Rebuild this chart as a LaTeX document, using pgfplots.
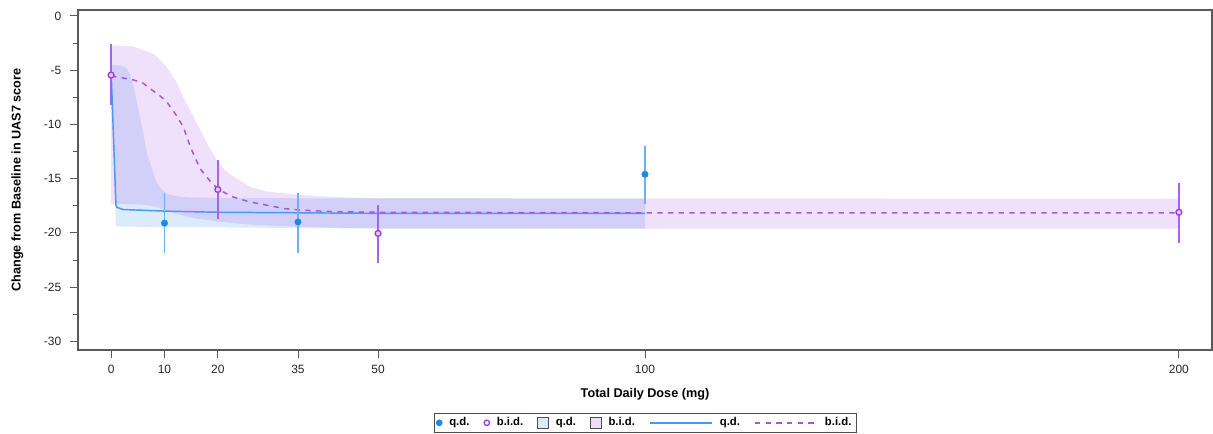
\documentclass[border=0pt]{standalone}
\usepackage{fontspec}
\setmainfont{Liberation Sans}
\usepackage{pgfplots}
\pgfplotsset{compat=1.18}
\definecolor{qdmark}{RGB}{30,136,232}
\definecolor{qderr}{RGB}{105,178,245}
\definecolor{qdline}{RGB}{75,152,240}
\definecolor{bidmark}{RGB}{160,60,222}
\definecolor{bidfill}{RGB}{225,200,250}
\definecolor{biderr}{RGB}{172,98,232}
\definecolor{bidline}{RGB}{165,85,228}
\definecolor{bandblue}{RGB}{55,145,235}
\definecolor{bandpurple}{RGB}{175,100,235}
\definecolor{legblue}{RGB}{218,234,252}
\definecolor{legpurple}{RGB}{237,222,252}
\begin{document}
\begin{tikzpicture}
\begin{axis}[name=ax, scale only axis, width=850.5pt, height=255pt,
  xmin=-6.2, xmax=206.2, ymin=-30.8, ymax=0.55,
  xtick={0,10,20,35,50,100,200}, ytick={0,-5,-10,-15,-20,-25,-30},
  minor y tick num=1,
  tick align=outside, xtick pos=bottom, ytick pos=left,
  major tick length=6pt, minor tick length=4pt,
  axis line style={black!65, line width=0.8pt},
  tick style={black!65, line width=0.7pt},
  /pgf/number format/assume math mode=true,
  tick label style={font=\fontsize{9}{10}\selectfont, text=black!85},
  xticklabel style={yshift=-2pt},
  yticklabel style={xshift=-3pt},
  every axis x label/.style={at={(rel axis cs:0.5,0)}, anchor=center, yshift=-33.5pt, font=\bfseries\fontsize{9.5}{11}\selectfont},
  every axis y label/.style={at={(rel axis cs:0,0.5)}, xshift=-45.5pt, rotate=90, anchor=center, font=\bfseries\fontsize{9.5}{11}\selectfont},
  xlabel={Total Daily Dose (mg)}, ylabel={Change from Baseline in UAS7 score},
  legend style={at={(0.5,0)}, anchor=north, yshift=-47pt, draw=black!70, line width=0.6pt,
    font=\bfseries\fontsize{8.5}{10}\selectfont, inner sep=1.5pt,
    /tikz/every odd column/.append style={column sep=3pt},
    /tikz/every even column/.append style={column sep=8.6pt}},
  legend columns=-1,
]
% q.d. band
\addplot[forget plot, draw=none, fill=bandblue, fill opacity=0.18] coordinates {
 (0,-4.5) (2,-4.6) (2.9,-4.8) (3.6,-5.5) (4.2,-6.5) (4.8,-7.9) (5.4,-9.3) (6.1,-11.0)
 (6.7,-12.7) (7.3,-13.5) (8.0,-14.6) (8.6,-15.45) (9.5,-16.0) (10.4,-16.4) (12,-16.6)
 (13.5,-16.7) (20,-16.8) (100,-16.85)
 (100,-19.6) (50,-19.6) (20,-19.5) (5,-19.45) (0.9,-19.4) (0.3,-10) (0,-4.5)};
% b.i.d. band
\addplot[forget plot, draw=none, fill=bandpurple, fill opacity=0.2] coordinates {
 (0,-2.7) (4,-2.8) (6,-3.15) (7.5,-3.4) (8.6,-3.75) (10.4,-4.7) (12,-5.9) (13.5,-7.45)
 (15,-8.9) (16.7,-10.5) (18,-11.8) (19.8,-13.3) (21.3,-14.2) (22.9,-14.8) (26,-15.75)
 (29.2,-16.2) (35.4,-16.5) (42,-16.7) (50,-16.8) (200,-16.85)
 (200,-19.6) (50,-19.6) (35,-19.45) (25,-19.2) (20,-18.95) (15,-18.6) (12,-18.2)
 (10,-17.9) (8.6,-17.6) (6,-17.4) (0,-17.3)};
% q.d. fitted line
\addplot[forget plot, qdline, line width=1.1pt] coordinates {
 (0,-5.0) (0.9,-17.4) (1.1,-17.65) (2.3,-17.85) (5,-17.9) (10.4,-18.0) (20,-18.1)
 (35,-18.15) (50,-18.2) (100,-18.2)};
% b.i.d. fitted line
\addplot[forget plot, bidline, line width=1.1pt, dash pattern=on 4pt off 4pt] coordinates {
 (0,-5.55) (2,-5.7) (4.2,-5.9) (6,-6.2) (7.3,-6.7) (9,-7.3) (10.4,-7.9) (12,-9.0)
 (13.5,-10.2) (14.8,-12.0) (15.4,-12.7) (16.7,-14.1) (18.5,-15.2) (20.1,-16.0)
 (22.9,-16.7) (26,-17.15) (29.2,-17.45) (32.3,-17.75) (35.4,-17.9) (42,-18.05)
 (50,-18.1) (100,-18.15) (200,-18.15)};
% q.d. observed
\addplot[forget plot, only marks, mark=*, mark size=2.4pt, color=qdmark,
  error bars/.cd, y dir=both, y explicit, error mark=none,
  error bar style={line width=1.4pt, color=qderr}] coordinates {
 (10,-19.1) += (0,2.8) -= (0,2.8)
 (35,-19.0) += (0,2.7) -= (0,2.9)
 (100,-14.6) += (0,2.6) -= (0,2.7)};
% b.i.d. observed
\addplot[forget plot, only marks, mark=*, mark size=2.2pt,
  mark options={draw=bidmark, fill=bidfill, line width=1pt},
  error bars/.cd, y dir=both, y explicit, error mark=none,
  error bar style={line width=1.4pt, color=biderr}] coordinates {
 (0,-5.45) += (0,2.85) -= (0,2.75)
 (20,-16.0) += (0,2.7) -= (0,2.75)
 (50,-20.05) += (0,2.65) -= (0,2.75)
 (200,-18.1) += (0,2.7) -= (0,2.8)};
% legend
\addlegendimage{legend image code/.code={\fill[qdmark] (4pt,0pt) circle (2.2pt);}}
\addlegendentry{q.d.}
\addlegendimage{legend image code/.code={\draw[bidmark, fill=white, line width=1pt] (4pt,0pt) circle (2pt);}}
\addlegendentry{b.i.d.}
\addlegendimage{legend image code/.code={\draw[fill=legblue, draw=black!70, line width=0.6pt] (0pt,-3.8pt) rectangle (8.2pt,4.2pt);}}
\addlegendentry{q.d.}
\addlegendimage{legend image code/.code={\draw[fill=legpurple, draw=black!70, line width=0.6pt] (0pt,-3.8pt) rectangle (8.2pt,4.2pt);}}
\addlegendentry{b.i.d.}
\addlegendimage{legend image code/.code={\draw[qdline, line width=1.1pt] (0pt,0pt) -- (47pt,0pt);}}
\addlegendentry{q.d.}
\addlegendimage{legend image code/.code={\draw[bidline, line width=1.1pt, dash pattern=on 4pt off 4pt] (0pt,0pt) -- (47pt,0pt);}}
\addlegendentry{b.i.d.}
\end{axis}
\pgfresetboundingbox
\path[use as bounding box] ([shift={(-58.5pt,-63pt)}]ax.south west) rectangle ([shift={(0.75pt,7.5pt)}]ax.north east);
\end{tikzpicture}
\end{document}
